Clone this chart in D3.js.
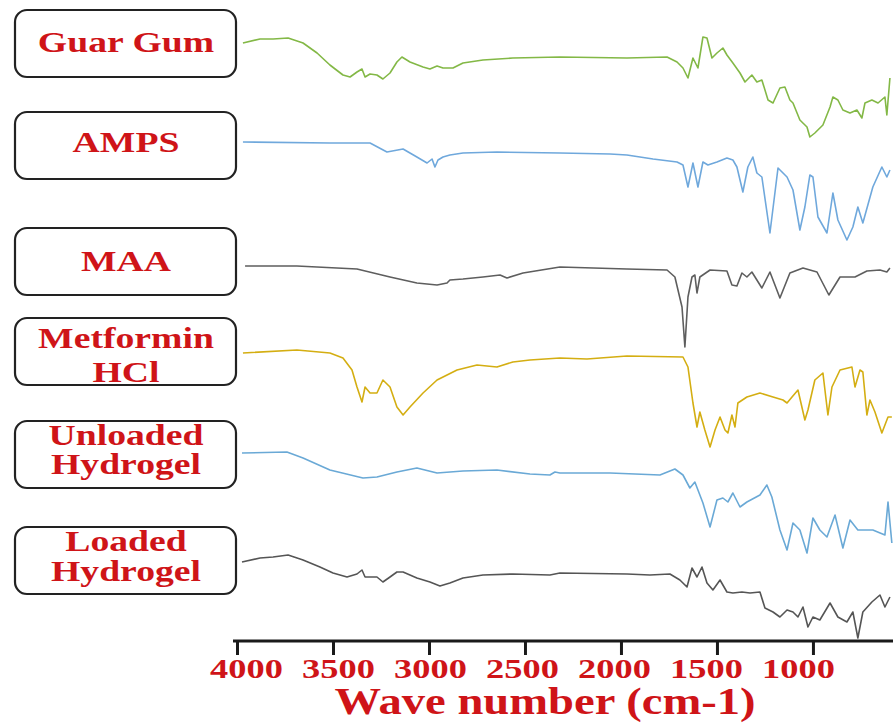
<!DOCTYPE html>
<html>
<head>
<meta charset="utf-8">
<script src="https://cdn.jsdelivr.net/npm/d3@7"></script>
<style>
  body { margin: 0; background: #fff; }
  svg { display: block; }
</style>
</head>
<body>
<div id="chart"></div>
<script>
// Sample names, as written in the boxes (one entry per line)
const sampleLabels = [
  ['Guar Gum'],
  ['AMPS'],
  ['MAA'],
  ['Metformin', 'HCl'],
  ['Unloaded', 'Hydrogel'],
  ['Loaded', 'Hydrogel'],
]
const xTicks = [4000, 3500, 3000, 2500, 2000, 1500, 1000]
const xTitle = 'Wave number (cm-1)'

// Spectra: [wavenumber cm-1, stacked transmittance (a.u.)]
const guarGum = [
  [3969, 59.8], [3880, 60.2], [3812, 60.2], [3734, 60.3], [3656, 59.8], [3583, 58.8], [3516, 57.6],
  [3448, 56.6], [3411, 56.4], [3375, 56.9], [3349, 57.2], [3333, 56.4], [3307, 56.7], [3271, 56.6],
  [3240, 56.2], [3203, 56.8], [3167, 57.9], [3141, 58.4], [3099, 57.9], [3031, 57.4], [2995, 57.2],
  [2958, 57.5], [2927, 57.3], [2875, 57.3], [2823, 57.8], [2719, 58.1], [2563, 58.3], [2318, 58.4],
  [1969, 58.3], [1760, 58.4], [1708, 57.9], [1677, 57.3], [1651, 56.3], [1625, 58.3], [1599, 57.3],
  [1573, 60.4], [1552, 60.3], [1526, 58.3], [1500, 58.8], [1469, 59.3], [1448, 58.6], [1417, 57.8],
  [1380, 56.8], [1354, 55.9], [1318, 56.6], [1292, 55.9], [1266, 56.1], [1234, 54.1], [1208, 53.8],
  [1172, 55.3], [1146, 55.4], [1120, 54.1], [1104, 53.8], [1068, 52.1], [1031, 51.4], [1016, 50.4],
  [990, 50.8], [948, 51.6], [911, 53.4], [896, 54.4], [870, 54.1], [844, 53.1], [807, 52.8],
  [771, 53.1], [745, 52.3], [729, 53.8], [693, 54.1], [661, 53.8], [625, 54.4], [615, 52.6], [599, 56.3],
]
const amps = [
  [3969, 49.9], [3516, 49.8], [3307, 49.8], [3219, 48.9], [3135, 49.2], [3063, 48.4], [3010, 47.8],
  [2984, 48.2], [2969, 47.4], [2953, 48.1], [2927, 48.4], [2891, 48.6], [2823, 48.8], [2646, 48.9],
  [2318, 48.8], [2057, 48.7], [1969, 48.6], [1833, 48.2], [1708, 47.9], [1677, 47.6], [1651, 45.4],
  [1625, 47.8], [1599, 45.4], [1573, 47.9], [1547, 47.6], [1500, 47.9], [1448, 48.3], [1417, 48.1],
  [1396, 47.4], [1365, 44.9], [1339, 47.4], [1313, 48.4], [1292, 46.8], [1266, 46.4], [1224, 40.8],
  [1182, 47.3], [1135, 46.4], [1104, 45.1], [1068, 41.1], [1042, 43.4], [1016, 46.6], [1000, 46.4],
  [974, 42.4], [927, 40.8], [896, 44.8], [870, 42.1], [823, 40.1], [792, 41.4], [766, 43.4],
  [740, 41.8], [688, 45.4], [641, 47.4], [615, 46.4], [599, 47.1],
]
const maa = [
  [3958, 37.5], [3688, 37.5], [3375, 37.2], [3203, 36.4], [3063, 35.8], [2958, 35.6], [2906, 35.8],
  [2891, 36.1], [2823, 36.2], [2719, 36.4], [2630, 36.6], [2594, 36.3], [2510, 36.8], [2318, 37.4],
  [1969, 37.2], [1760, 37.1], [1719, 36.4], [1682, 33.4], [1667, 29.4], [1651, 34.4], [1630, 36.4],
  [1615, 36.6], [1604, 34.8], [1589, 36.4], [1536, 37.1], [1448, 37.0], [1422, 35.6], [1396, 35.5],
  [1370, 36.8], [1344, 36.4], [1318, 36.9], [1266, 35.3], [1224, 36.9], [1172, 34.3], [1120, 36.8],
  [1052, 37.3], [979, 36.9], [917, 34.6], [859, 36.4], [781, 36.4], [719, 37.0], [651, 37.1],
  [615, 36.9], [599, 37.3],
]
const metformin = [
  [3969, 28.8], [3688, 29.1], [3516, 28.8], [3448, 28.3], [3401, 27.1], [3375, 25.4], [3349, 23.9],
  [3333, 25.4], [3307, 24.8], [3271, 24.8], [3240, 26.1], [3203, 25.4], [3167, 23.4], [3135, 22.6],
  [3099, 23.4], [3031, 24.8], [2958, 26.1], [2854, 27.1], [2750, 27.6], [2646, 27.4], [2563, 27.9],
  [2474, 28.1], [2318, 28.3], [2177, 28.2], [1969, 28.5], [1677, 28.4], [1651, 27.4], [1625, 23.8],
  [1604, 21.4], [1589, 22.9], [1563, 21.1], [1536, 19.4], [1510, 21.1], [1484, 22.4], [1458, 21.1],
  [1443, 20.8], [1422, 22.6], [1406, 21.4], [1391, 23.8], [1344, 24.4], [1276, 24.8], [1208, 24.4],
  [1156, 24.1], [1135, 23.8], [1109, 24.4], [1078, 25.1], [1042, 22.1], [1026, 23.1], [990, 26.1],
  [948, 26.8], [922, 22.6], [901, 25.4], [859, 27.1], [797, 27.4], [781, 25.4], [755, 27.1],
  [740, 26.9], [719, 22.6], [703, 24.1], [677, 22.9], [641, 20.8], [609, 22.4], [589, 22.4],
]
const unloaded = [
  [3974, 18.8], [3740, 18.9], [3656, 18.3], [3516, 17.1], [3344, 16.3], [3271, 16.4], [3167, 16.9],
  [3063, 17.3], [2958, 16.8], [2823, 17.0], [2646, 17.1], [2474, 16.7], [2370, 16.6], [2344, 16.9],
  [2318, 16.8], [2057, 16.8], [1797, 16.6], [1719, 17.2], [1677, 16.6], [1641, 15.3], [1615, 15.9],
  [1573, 13.8], [1536, 11.4], [1500, 14.1], [1469, 14.3], [1443, 13.9], [1417, 14.8], [1380, 13.4],
  [1344, 13.9], [1276, 14.6], [1240, 15.6], [1214, 14.4], [1172, 11.1], [1135, 9.1], [1104, 11.8],
  [1068, 11.1], [1031, 8.8], [1000, 12.3], [964, 11.1], [927, 10.4], [885, 12.6], [844, 9.3],
  [807, 12.1], [766, 11.1], [688, 11.1], [625, 10.6], [609, 13.9], [589, 9.8],
]
const loaded = [
  [3974, 7.9], [3880, 8.3], [3812, 8.4], [3734, 8.6], [3656, 8.1], [3568, 7.4], [3500, 6.8],
  [3427, 6.4], [3375, 6.7], [3349, 7.1], [3333, 6.4], [3271, 6.4], [3240, 5.9], [3203, 6.4],
  [3167, 6.9], [3135, 6.9], [3063, 6.3], [2995, 5.9], [2943, 5.5], [2891, 5.8], [2823, 6.3],
  [2719, 6.6], [2563, 6.7], [2370, 6.6], [2318, 6.8], [1969, 6.7], [1849, 6.6], [1745, 6.7],
  [1693, 6.1], [1656, 5.4], [1630, 7.3], [1604, 6.4], [1578, 7.4], [1552, 5.8], [1521, 5.1],
  [1484, 6.1], [1448, 4.9], [1417, 4.8], [1370, 4.9], [1328, 4.8], [1276, 4.9], [1250, 3.3],
  [1208, 2.9], [1172, 2.4], [1135, 3.1], [1104, 2.9], [1078, 2.4], [1052, 3.4], [1026, 1.4],
  [1000, 2.4], [964, 2.1], [911, 3.8], [870, 2.4], [823, 1.9], [792, 2.9], [766, 0.3],
  [740, 2.9], [693, 3.9], [651, 4.6], [625, 3.4], [599, 4.4],
]

const spectra = [guarGum, amps, maa, metformin, unloaded, loaded]
const lineColors = ['#83b846', '#6fa8dc', '#5e5e5e', '#d4ae12', '#6aa9d6', '#555555']

// Layout (label boxes, top y and text baselines)
const boxTops = [10, 112, 228, 318, 421, 527]
const textBaselines = [[52], [152], [271], [348, 382], [445, 474], [551, 581]]

const width = 893
const height = 724
const red = '#cf1418'
const serif = '"Liberation Serif", "Times New Roman", serif'

const svg = d3.select('#chart')
  .append('svg')
  .attr('width', width)
  .attr('height', height)

const x = d3.scaleLinear().domain([4000, 583]).range([237, 893])
const y = d3.scaleLinear().domain([0, 64.1]).range([641, 0])
// tick labels in the source sit on a slightly tighter pitch than the ticks
const xLabel = d3.scaleLinear().domain([4000, 1000]).range([246, 798])

// Spectra
const line = d3.line()
  .x(d => x(d[0]))
  .y(d => y(d[1]))

svg.append('g')
  .selectAll('path')
  .data(spectra)
  .join('path')
  .attr('d', line)
  .attr('fill', 'none')
  .attr('stroke', (d, i) => lineColors[i])
  .attr('stroke-width', 1.6)
  .attr('stroke-linejoin', 'round')

// Label boxes
const boxes = svg.append('g')
  .selectAll('g')
  .data(sampleLabels)
  .join('g')

boxes.append('rect')
  .attr('x', 15)
  .attr('y', (d, i) => boxTops[i])
  .attr('width', 221)
  .attr('height', 67)
  .attr('rx', 12)
  .attr('fill', '#fff')
  .attr('stroke', '#222')
  .attr('stroke-width', 2.2)

boxes.each(function (lines, i) {
  d3.select(this).selectAll('text')
    .data(lines)
    .join('text')
    .attr('transform', (t, j) => `translate(126,${textBaselines[i][j]}) scale(1.3,1)`)
    .attr('text-anchor', 'middle')
    .attr('font-family', serif)
    .attr('font-weight', 'bold')
    .attr('font-size', '29px')
    .attr('fill', red)
    .text(t => t)
})

// X axis
const axis = svg.append('g')
  .attr('transform', 'translate(0,641)')
  .call(d3.axisBottom(x).tickValues(xTicks).tickSize(14).tickSizeOuter(0).tickFormat(d3.format('d')))

axis.select('.domain')
  .attr('d', `M233,0H${width}`)
  .attr('stroke', '#1a1a1a')
  .attr('stroke-width', 3)
axis.selectAll('.tick line')
  .attr('stroke', '#1a1a1a')
  .attr('stroke-width', 3)
axis.selectAll('.tick text')
  .attr('y', 0)
  .attr('dy', 0)
  .attr('transform', d => `translate(${xLabel(d) - x(d)},37) scale(1.3,1)`)
  .attr('fill', red)
  .attr('font-family', serif)
  .attr('font-weight', 'bold')
  .attr('font-size', '28px')

svg.append('text')
  .attr('transform', 'translate(545,714) scale(1.26,1)')
  .attr('text-anchor', 'middle')
  .attr('font-family', serif)
  .attr('font-weight', 'bold')
  .attr('font-size', '37px')
  .attr('fill', red)
  .text(xTitle)
</script>
</body>
</html>
